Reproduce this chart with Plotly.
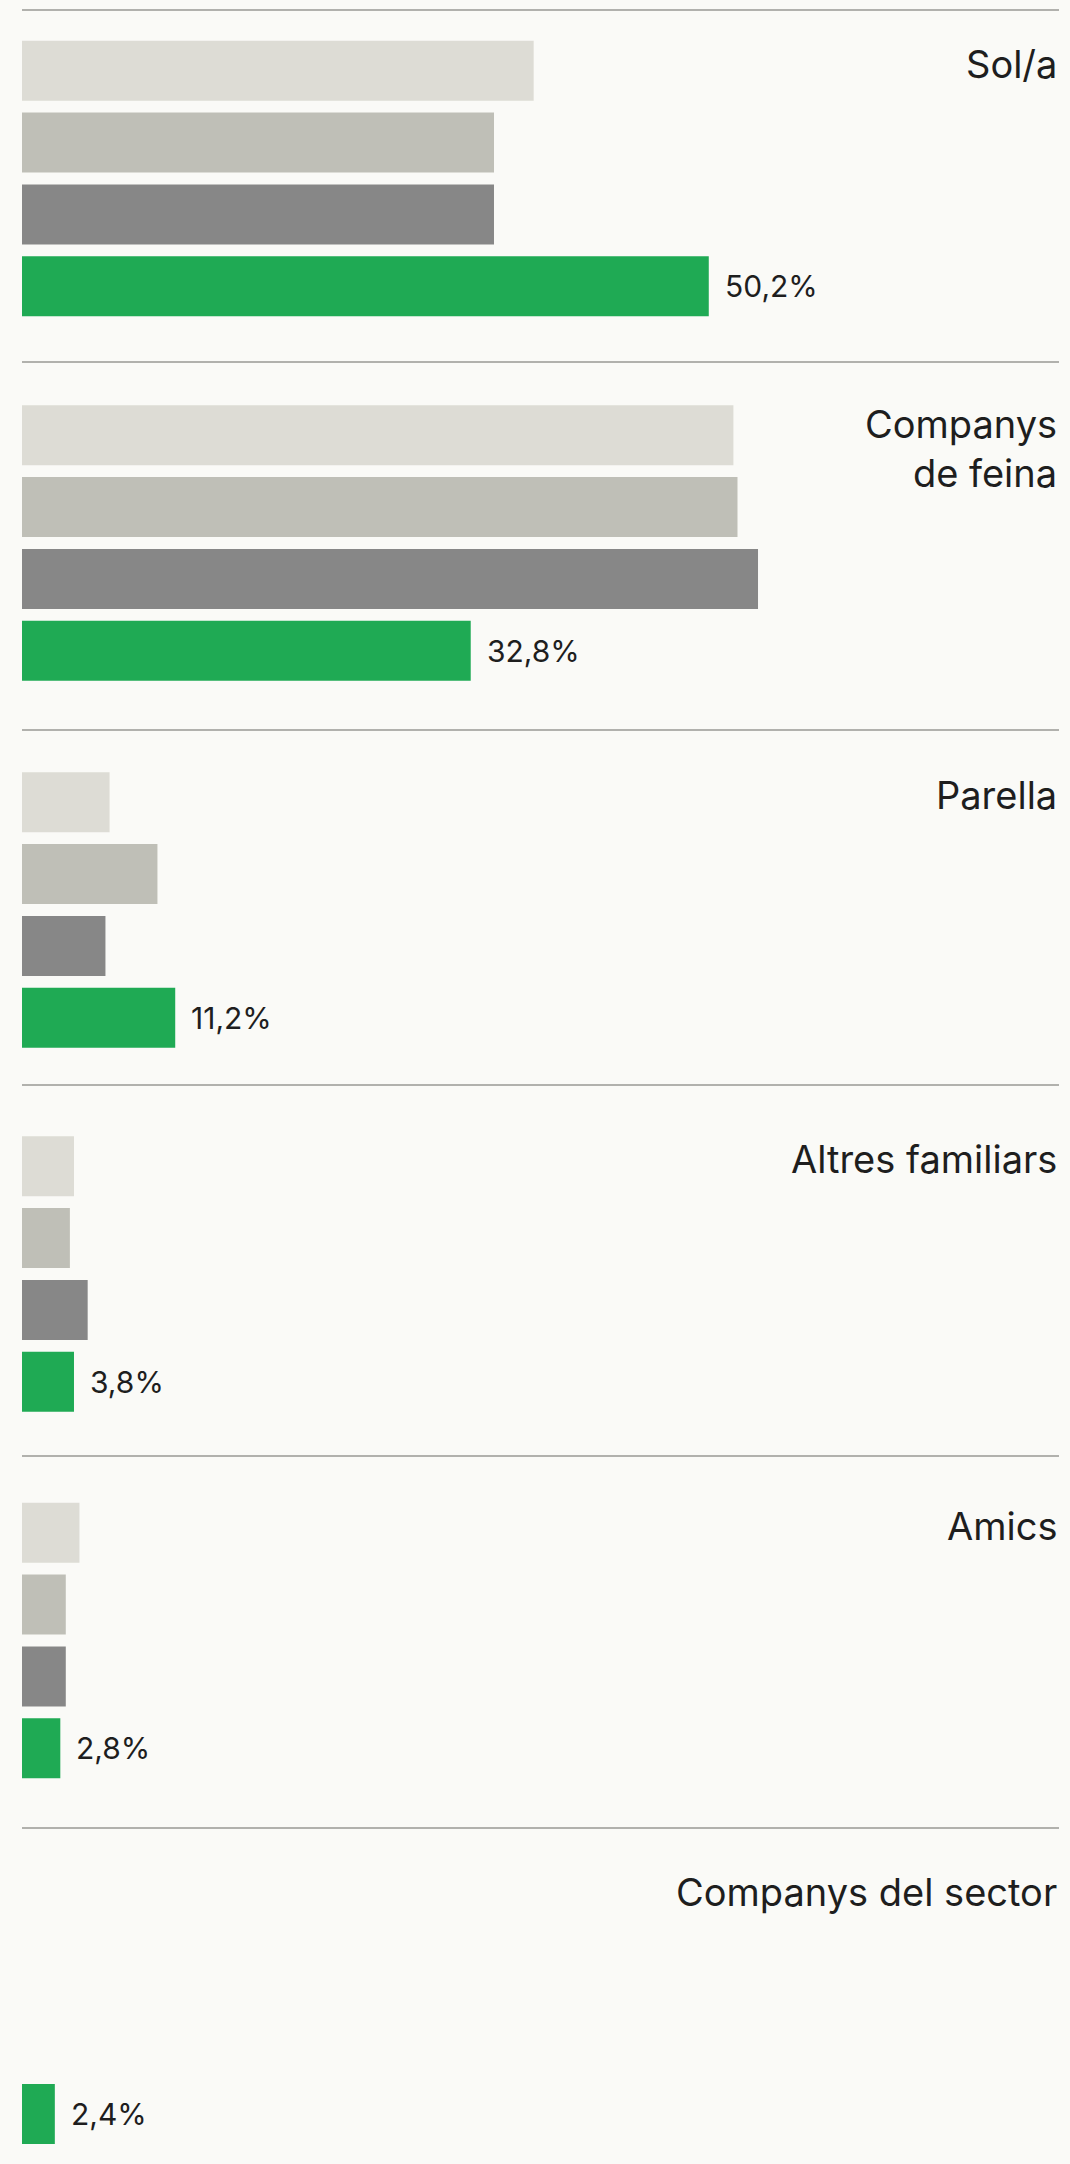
import plotly.graph_objects as go

# ---------------- data ----------------
categories = ["Sol/a", "Companys<br>de feina", "Parella", "Altres familiars", "Amics", "Companys del sector"]
series = ["Sèrie 1", "Sèrie 2", "Sèrie 3", "Sèrie actual"]
serie_1 = [37.4, 52.0, 6.4, 3.8, 4.2, None]
serie_2 = [34.5, 52.3, 9.9, 3.5, 3.2, None]
serie_3 = [34.5, 53.8, 6.1, 4.8, 3.2, None]
serie_actual = [50.2, 32.8, 11.2, 3.8, 2.8, 2.4]

# ---------------- style ----------------
colors = ["#DDDCD5", "#BFBFB7", "#878787", "#1FAA54"]
BG = "#FAFAF7"
TXT = "#1E1E1E"
FONT = "Inter"
W, H = 1070, 2164
X0, X1 = 22, 1059            # plot left / right in px
XMAX = 75.8                  # value at right edge
PITCH, BARH = 71.8, 60.0
centers = [178.5, 543, 910, 1274, 1640.5, 2006.3]   # section centres (px)
sep_lines = [10, 362, 730, 1085, 1456, 1828]         # separator lines (px)

def py(px):
    return 1 - px / H

fig = go.Figure()
shapes, annotations = [], []
n = len(categories)
for i in range(n):
    k = "" if i == 0 else str(i + 1)
    vals = [serie_1[i], serie_2[i], serie_3[i], serie_actual[i]]
    fig.add_trace(go.Bar(
        x=vals, y=series, orientation="h",
        marker=dict(color=colors, line=dict(width=0)),
        xaxis="x" + k, yaxis="y" + k,
        hovertemplate="%{y}: %{x:.1f}%<extra></extra>",
        showlegend=False,
    ))
    top = centers[i] - 2 * PITCH
    bot = centers[i] + 2 * PITCH
    fig.update_layout(**{
        "xaxis" + k: dict(domain=[X0 / W, X1 / W], range=[0, XMAX], visible=False,
                          anchor="y" + k, fixedrange=True),
        "yaxis" + k: dict(domain=[py(bot), py(top)], type="category",
                          categoryorder="array", categoryarray=series,
                          range=[3.5, -0.5], visible=False, anchor="x" + k,
                          fixedrange=True),
    })
    # value label for the current series
    v = serie_actual[i]
    annotations.append(dict(
        x=v, y=series[-1], xref="x" + k, yref="y" + k,
        text=f"{v:.1f}".replace(".", ",") + "%",
        xanchor="left", yanchor="middle", xshift=14, showarrow=False,
        font=dict(family=FONT, size=30, color=TXT),
    ))
    # category label (right aligned)
    first_top = top + (PITCH - BARH) / 2
    nlines = categories[i].count("<br>") + 1
    annotations.append(dict(
        x=X1 / W, y=py(first_top - 2 - 4.5 * (nlines - 1)), xref="paper", yref="paper",
        text=categories[i], xanchor="right", yanchor="top", align="right",
        showarrow=False, font=dict(family=FONT, size=38, color=TXT),
    ))

for yl in sep_lines:
    shapes.append(dict(type="line", xref="paper", yref="paper",
                       x0=X0 / W, x1=X1 / W, y0=py(yl), y1=py(yl),
                       line=dict(color="#999994", width=1.5)))

fig.update_layout(
    width=W, height=H,
    margin=dict(l=0, r=0, t=0, b=0),
    paper_bgcolor=BG, plot_bgcolor=BG,
    bargap=1 - BARH / PITCH,
    shapes=shapes, annotations=annotations,
    font=dict(family=FONT, color=TXT),
)

fig.write_html(
    "out.html",
    config={"displayModeBar": False},
    post_script="document.body.style.margin='0';document.body.style.background='#FAFAF7';",
)
